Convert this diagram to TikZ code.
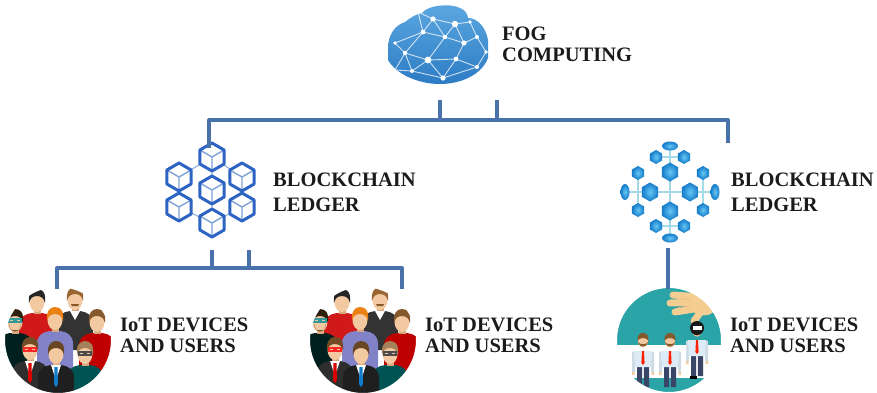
\documentclass[tikz,border=0pt]{standalone}
\usepackage{fontspec}
\setmainfont{Liberation Serif}
\usetikzlibrary{calc}

\definecolor{connblue}{HTML}{4A72AA}
\definecolor{txt}{HTML}{1B1B1B}
\definecolor{cloudtop}{HTML}{5EA9E2}
\definecolor{cloudbot}{HTML}{2C7BC3}
\definecolor{cubeedge}{HTML}{2D63C2}
\definecolor{cubeinner}{HTML}{7FA2D8}
\definecolor{cubelink}{HTML}{9DB8E2}
\definecolor{hexin}{HTML}{66C7F3}
\definecolor{hexout}{HTML}{137AC9}
\definecolor{hexlink}{HTML}{A6DAE8}
\definecolor{skin}{HTML}{F2C9A0}
\definecolor{skindark}{HTML}{D9A77E}
\definecolor{handskin}{HTML}{F4CD92}
\definecolor{tealbg}{HTML}{2AA4A6}
\definecolor{shirtblue}{HTML}{DCEBF6}
\definecolor{navy}{HTML}{3A4668}

% one isometric cube drawn as a hexagon outline with a Y inside
\newcommand\drawcube[2]{%
  \begin{scope}[shift={(#1,#2)}]
    \fill[white] (0,-14) -- (12.12,-7) -- (12.12,7) -- (0,14) -- (-12.12,7) -- (-12.12,-7) -- cycle;
    \draw[cubeinner, line width=1.4pt] (0,0) -- (12.12,-7) (0,0) -- (-12.12,-7) (0,0) -- (0,14);
    \draw[cubeedge, line width=3pt, line join=round] (0,-14) -- (12.12,-7) -- (12.12,7) -- (0,14) -- (-12.12,7) -- (-12.12,-7) -- cycle;
  \end{scope}}

% a shaded hexagon of the chain network
\newcommand\drawhex[3]{%
  \begin{scope}[shift={(#1,#2)}, scale=#3]
    \shade[inner color=hexin, outer color=hexout] (0,-1) -- (0.866,-0.5) -- (0.866,0.5) -- (0,1) -- (-0.866,0.5) -- (-0.866,-0.5) -- cycle;
  \end{scope}}

% a head-and-shoulders figure: x, y, hair colour, shirt colour
\newcommand\drawavatar[4]{%
  \begin{scope}[shift={(#1,#2)}]
    \fill[#4] (-18,50) -- (-18,24) .. controls (-18,15) and (-12,12) .. (-5,11) -- (5,11) .. controls (12,12) and (18,15) .. (18,24) -- (18,50) -- cycle;
    \fill[skindark] (-3.5,4) rectangle (3.5,12);
    \fill[skin] (0,0) ellipse [x radius=7.5, y radius=10];
    \fill[#3] (-8,1) .. controls (-9,-9) and (-5,-13) .. (0,-13) .. controls (6,-13) and (9,-9) .. (8,1) .. controls (7,-4) and (4,-6) .. (0,-6) .. controls (-4,-6) and (-7,-4) .. (-8,1) -- cycle;
  \end{scope}}

% white shirt front and tie on a suit: x, y, tie colour
\newcommand\drawtie[3]{%
  \begin{scope}[shift={(#1,#2)}]
    \fill[white] (-5,11) -- (0,26) -- (5,11) -- cycle;
    \fill[#3] (-1.5,13) -- (1.5,13) -- (2,30) -- (0,33) -- (-2,30) -- cycle;
  \end{scope}}

% glasses: x, y, colour
\newcommand\drawglasses[3]{%
  \draw[#3, line width=1.2pt] (#1-6,#2+1) rectangle (#1-1,#2+4) (#1+1,#2+1) rectangle (#1+6,#2+4) (#1-1,#2+2) -- (#1+1,#2+2);}

% a standing worker: x, y of the head
\newcommand\drawworker[2]{%
  \begin{scope}[shift={(#1,#2)}]
    \fill[navy] (-6,24) rectangle (-0.8,46) (0.8,24) rectangle (6,46);
    \fill[shirtblue!85!gray] (-11,11) -- (-8,10) -- (-8,31) -- (-11,31) -- cycle (11,11) -- (8,10) -- (8,31) -- (11,31) -- cycle;
    \fill[shirtblue] (-9,10) -- (9,10) -- (8,26) -- (-8,26) -- cycle;
    \fill[skin] (-11,31) rectangle (-8.5,34) (8.5,31) rectangle (11,34);
    \fill[red!75!orange] (-1,10) -- (1,10) -- (1.6,22) -- (0,24) -- (-1.6,22) -- cycle;
    \fill[skin] (0,0) ellipse [x radius=5, y radius=6.5];
    \fill[brown!70!black] (-5.5,0) .. controls (-6,-6) and (-3,-8) .. (0,-8) .. controls (3,-8) and (6,-6) .. (5.5,0) .. controls (4,-4) and (-4,-4) .. (-5.5,0) -- cycle;
    \fill[brown!70!black] (-5,1) .. controls (-4,7) and (4,7) .. (5,1) .. controls (3,4) and (-3,4) .. (-5,1) -- cycle;
  \end{scope}}

% a crowd of figures in a round frame centred at (58,340)
\newcommand\drawcrowd{%
  \begin{scope}
    \clip (58,340) circle (54);
    \fill[white] (58,340) circle (54);
    \drawavatar{37}{302}{black!85}{red!80!black!90}
    \drawavatar{75}{300}{brown!80!black}{black!80}
    \fill[white] (70,311) -- (75,320) -- (80,311) -- cycle;
    \fill[brown!70!black] (71,304) -- (79,304) -- (78,306) -- (72,306) -- cycle;
    \drawavatar{15}{322}{black!75!brown}{black!75!teal}
    \fill[brown!60!black] (9,324) .. controls (10,334) and (20,334) .. (21,324) -- (19,330) -- (11,330) -- cycle;
    \drawglasses{15}{318}{teal!80}
    \drawavatar{97}{322}{brown!70!black}{red!75!black}
    \drawavatar{55}{320}{orange!70!brown}{gray!60!blue!70}
    \drawavatar{30}{350}{brown!60!black}{black!82}
    \drawtie{30}{350}{red!85!black}
    \drawglasses{30}{347}{red!85}
    \drawavatar{85}{354}{brown!60!gray}{teal!65!black}
    \drawglasses{85}{351}{black!70}
    \drawavatar{56}{354}{brown!55!black}{black!88}
    \drawtie{56}{354}{cyan!60!blue}
  \end{scope}
  \draw[white, line width=2pt] (58,340) circle (54);}

\tikzset{
  conn/.style={draw=connblue, line width=4pt, line join=round},
  iconbox/.style={draw=none, inner sep=0pt, minimum width=#1, minimum height=#1},
  caption/.style={anchor=north west, inner sep=0pt, align=left, text=txt,
    font=\bfseries\fontsize{20.5}{21}\selectfont},
  meshline/.style={white, line width=0.9pt, opacity=0.75},
}

\begin{document}
\begin{tikzpicture}[x=1pt, y=-1pt]
\useasboundingbox (0,0) rectangle (877,392);

% ---------- icon frames ----------
\node[iconbox=80pt] (fog) at (440,44) {};
\node[iconbox=104pt] (chainL) at (210,190) {};
\node[iconbox=100pt] (chainR) at (669,192) {};
\node[iconbox=108pt, circle] (usr1) at (58,340) {};
\node[iconbox=108pt, circle] (usr2) at (363,340) {};
\node[iconbox=108pt, circle] (usr3) at (669,340) {};

% ---------- fog cloud ----------
\begin{scope}
  \clip (388,48) .. controls (388,35) and (395,25) .. (405,22)
    .. controls (410,18) and (416,14) .. (422,13)
    .. controls (428,5) and (450,3) .. (460,8)
    .. controls (466,10) and (468,16) .. (468,18)
    .. controls (478,18) and (486,28) .. (488,40)
    -- (488,58)
    .. controls (482,74) and (462,84) .. (440,84)
    .. controls (418,84) and (396,74) .. (388,60) -- cycle;
  \shade[top color=cloudtop, bottom color=cloudbot] (385,0) rectangle (492,86);
  \foreach \n/\p in {1/{433,19}, 2/{455,24}, 3/{423,32}, 4/{445,37}, 5/{464,43},
      6/{405,53}, 7/{428,60}, 8/{456,59}, 9/{412,71}, 10/{443,78}, 11/{477,37},
      12/{477,67}, 13/{395,43}, 14/{418,12}, 15/{470,22}, 16/{395,70}, 17/{486,52}}
    \coordinate (m\n) at (\p);
  \foreach \a/\b in {1/2,1/3,1/4,2/4,2/5,2/15,15/11,11/5,3/4,3/6,3/13,13/6,4/7,4/5,
      5/8,11/17,17/12,8/12,7/8,6/7,6/9,7/9,7/10,8/10,9/10,10/12,14/1,14/3,16/9,16/6}
    \draw[meshline] (m\a) -- (m\b);
  \foreach \n/\r in {1/2.6,2/3.2,3/2.4,4/2.2,5/2.6,6/2.2,7/3.4,8/2.4,9/2,10/2.6,11/2,12/2,13/1.8,15/1.8,17/1.8}
    \fill[white] (m\n) circle (\r);
\end{scope}

% ---------- left ledger: seven linked cubes ----------
\draw[cubelink, line width=1.3pt] (212,157) -- (179,177) -- (179,207) -- (212,223) -- (242,207) -- (242,177) -- cycle
  (212,157) -- (212,223);
\drawcube{212}{157}
\drawcube{179}{177}
\drawcube{242}{177}
\drawcube{212}{190}
\drawcube{179}{207}
\drawcube{242}{207}
\drawcube{212}{223}

% ---------- right ledger: hexagon network ----------
\draw[hexlink, line width=2.2pt] (670,147) -- (670,237) (626,192) -- (714,192)
  (656,157) -- (684,157) (656,226) -- (684,226) (638,173) -- (638,210) (703,173) -- (703,210);
\drawhex{670}{172}{9.5}
\drawhex{650}{192}{9.5}
\drawhex{690}{192}{9.5}
\drawhex{670}{211}{9.5}
\foreach \hx/\hy in {656/157, 684/157, 656/226, 684/226, 638/173, 638/210, 703/173, 703/210}
  {\drawhex{\hx}{\hy}{7}}
\shade[inner color=hexin, outer color=hexout] (670,146) ellipse [x radius=8, y radius=4.5];
\shade[inner color=hexin, outer color=hexout] (670,238) ellipse [x radius=8, y radius=4.5];
\shade[inner color=hexin, outer color=hexout] (625,192) ellipse [x radius=4.5, y radius=8];
\shade[inner color=hexin, outer color=hexout] (715,192) ellipse [x radius=4.5, y radius=8];

% ---------- users ----------
\drawcrowd
\begin{scope}[shift={(305,0)}]
  \drawcrowd
\end{scope}

\begin{scope}
  \clip (669,340) circle (53);
  \fill[tealbg] (669,340) circle (53);
  \fill[white] (610,345) rectangle (730,378);
  % a hand reaching in from the upper right
  \fill[handskin, rotate around={-15:(702,305)}] (702,305) ellipse [x radius=14, y radius=10];
  \draw[handskin, line width=7pt, line cap=round] (700,297) -- (673,295) (700,302) -- (670,303)
    (700,308) -- (675,312) (702,310) -- (694,321) (708,298) -- (728,284);
  \draw[handskin!80!brown, line width=0.8pt] (690,299.5) -- (680,299) (690,306) -- (678,307.5);
  \drawworker{643}{341}
  \drawworker{670}{341}
  \drawworker{697}{330}
  \fill[black!90] (697,328) circle (7);
  \fill[white] (692.5,326) rectangle (701.5,329.5);
  \fill[black] (690,376) rectangle (697,379);
\end{scope}
\draw[white, line width=2pt] (669,340) circle (53);

% ---------- connectors ----------
\coordinate (busT) at (0,120);
\coordinate (busM) at (0,268);
\draw[conn] ([yshift=-16pt]fog.south) -- (fog.south |- busT);
\draw[conn] ([xshift=57pt,yshift=-16pt]fog.south) -- ([xshift=57pt]fog.south |- busT);
\draw[conn] ([xshift=-1pt,yshift=-10pt]chainL.north) -- ([xshift=-1pt]chainL.north |- busT)
  -- ([xshift=59pt]chainR.north |- busT) -- ([xshift=59pt,yshift=-1pt]chainR.north);
\draw[conn] ([xshift=2pt,yshift=-8pt]chainL.south) -- ([xshift=2pt]chainL.south |- busM);
\draw[conn] ([xshift=39pt,yshift=-8pt]chainL.south) -- ([xshift=39pt]chainL.south |- busM);
\coordinate (drop2) at ($(usr2.north)+(39,3)$);
\draw[conn] ([xshift=-1pt,yshift=-3pt]usr1.north) -- ([xshift=-1pt]usr1.north |- busM)
  -- (drop2 |- busM) -- (drop2);
\draw[conn] ([xshift=-1pt,yshift=-6pt]chainR.south) -- ([xshift=-1pt,yshift=-3pt]usr3.north);

% ---------- captions ----------
\node[caption] (fogtxt) at (502,27) {FOG\\COMPUTING};
\node[caption, font=\bfseries\fontsize{20.5}{25}\selectfont] (chainLtxt) at (273,173) {BLOCKCHAIN\\LEDGER};
\node[caption, font=\bfseries\fontsize{20.5}{25}\selectfont] (chainRtxt) at (731,173) {BLOCKCHAIN\\LEDGER};
\node[caption, font=\bfseries\fontsize{20.5}{20.5}\selectfont] (usr1txt) at (120,318) {IoT DEVICES\\AND USERS};
\node[caption, font=\bfseries\fontsize{20.5}{20.5}\selectfont] (usr2txt) at (425,318) {IoT DEVICES\\AND USERS};
\node[caption, font=\bfseries\fontsize{20.5}{20.5}\selectfont] (usr3txt) at (730,318) {IoT DEVICES\\AND USERS};
\end{tikzpicture}
\end{document}
